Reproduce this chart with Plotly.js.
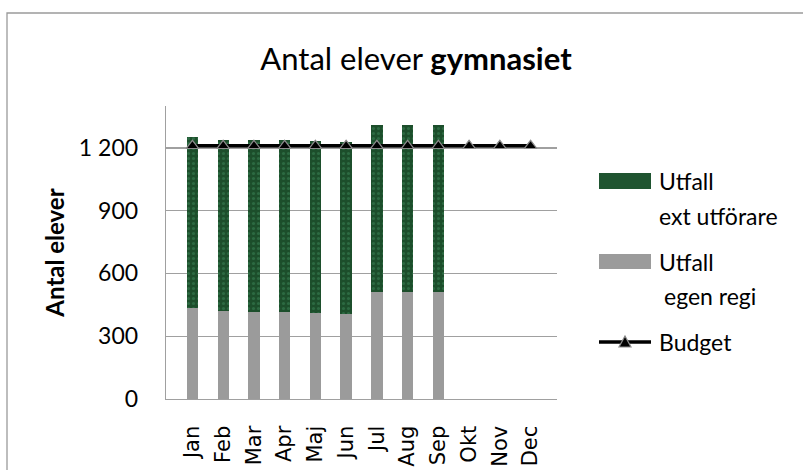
<!DOCTYPE html>
<html><head><meta charset="utf-8">
<script src="https://cdn.plot.ly/plotly-3.0.1.min.js"></script>
<style>html,body{margin:0;padding:0;background:#fff;}#chart{width:803px;height:470px;}</style>
</head><body><div id="chart"></div>
<script>
var months = ["Jan","Feb","Mar","Apr","Maj","Jun","Jul","Aug","Sep","Okt","Nov","Dec"];
var egenRegi = [436, 420, 415, 415, 410, 406, 512, 512, 512, null, null, null];
var extUtforare = [815, 816, 821, 821, 821, 820, 795, 795, 795, null, null, null];
var budget = [1210, 1210, 1210, 1210, 1210, 1210, 1210, 1210, 1210, 1210, 1210, 1210];
var yTickVals = [0, 300, 600, 900, 1200];
var yTickText = ["0", "300", "600", "900", "1 200"];
var legendLines = ["Utfall", "ext utförare", "Utfall", "egen regi", "Budget"];

var W = 803, H = 470, L = 166, R = 557, T = 106, B = 399;
function px(x){ return (x - L) / (R - L); }
function py(y){ return (B - y) / (B - T); }

var green = '#1f5430';
var gray = '#9b9b9b';
var calib = 'Lato, "Open Sans", sans-serif';

var traces = [
  {type:'bar', name:'Utfall egen regi', x:months, y:egenRegi, marker:{color:gray}, hoverinfo:'x+y'},
  {type:'bar', name:'Utfall ext utförare', x:months, y:extUtforare,
   marker:{color:green, pattern:{shape:'.', fillmode:'replace', bgcolor:'#1c4e2b', fgcolor:'#2c6a42', size:5, solidity:0.3}}, hoverinfo:'x+y'},
  {type:'scatter', mode:'lines+markers', name:'Budget', x:months, y:budget,
   line:{color:'#000', width:3.5},
   marker:{symbol:'triangle-up', size:11, color:'#000', line:{color:'#8c8c8c', width:1.2}}}
];

var shapes = [
  {type:'rect', xref:'paper', yref:'paper', x0:px(7), x1:px(812), y0:py(480), y1:py(13), line:{color:'#9a9a9a', width:1.3}, fillcolor:'rgba(0,0,0,0)', layer:'below'},
  {type:'rect', xref:'paper', yref:'paper', x0:px(599), x1:px(651), y0:py(189), y1:py(173), line:{width:0}, fillcolor:green},
  {type:'rect', xref:'paper', yref:'paper', x0:px(599), x1:px(651), y0:py(269), y1:py(254), line:{width:0}, fillcolor:gray},
  {type:'line', xref:'paper', yref:'paper', x0:px(599), x1:px(651), y0:py(342), y1:py(342), line:{color:'#000', width:3.5}},
  {type:'path', xref:'paper', yref:'paper',
   path:'M'+px(619)+','+py(347)+' L'+px(631)+','+py(347)+' L'+px(625)+','+py(336)+' Z',
   fillcolor:'#000', line:{color:'#8c8c8c', width:1.2}}
];

var legendFont = {family:calib, size:23, color:'#000'};
var legX = [657, 657, 657, 662, 657];
var legY = [181, 216, 262, 296, 342];
var annotations = legendLines.map(function(t, i){
  return {xref:'paper', yref:'paper', x:px(legX[i]), y:py(legY[i]), xanchor:'left', yanchor:'middle', text:t, showarrow:false, font:legendFont};
});

var layout = {
  width:W, height:H,
  margin:{l:L, r:W-R, t:T, b:H-B, pad:0},
  paper_bgcolor:'#fff', plot_bgcolor:'#fff',
  barmode:'stack', bargap:0.633,
  showlegend:false,
  title:{text:'Antal elever <b>gymnasiet</b>', font:{family:calib, size:31, color:'#000'}, x:416/W, xanchor:'center', y:1-59/H, yanchor:'middle'},
  xaxis:{type:'category', categoryarray:months, showgrid:false, showline:true, linecolor:'#a0a0a0', linewidth:1.3,
    tickangle:-90, ticks:'outside', ticklen:17, tickcolor:'rgba(0,0,0,0)',
    tickfont:{family:'"DejaVu Sans", sans-serif', size:21, color:'#000'}, fixedrange:true},
  yaxis:{range:[0,1400], tickvals:yTickVals, ticktext:yTickText, showgrid:true, gridcolor:'#a0a0a0', gridwidth:1.3,
    showline:true, linecolor:'#a0a0a0', linewidth:1.3, zeroline:false,
    ticks:'outside', ticklen:22, tickcolor:'rgba(0,0,0,0)',
    tickfont:{family:calib, size:23, color:'#000'},
    title:{text:'<b>Antal elever</b>', font:{family:calib, size:24, color:'#000'}, standoff:7}, fixedrange:true},
  shapes:shapes, annotations:annotations
};

Plotly.newPlot('chart', traces, layout, {displayModeBar:false, staticPlot:true});
</script></body></html>
